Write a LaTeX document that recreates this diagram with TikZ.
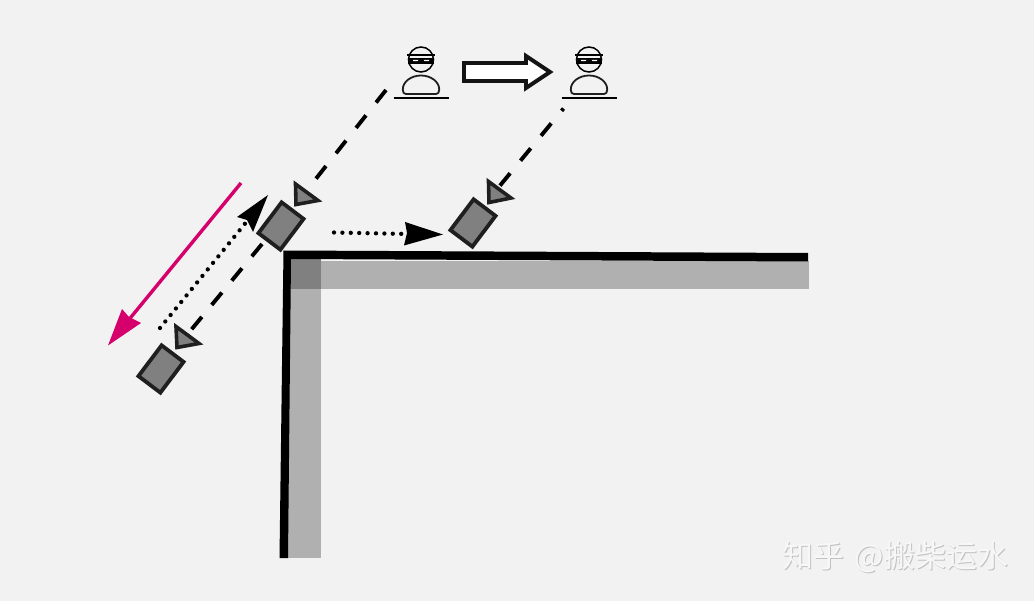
\documentclass[tikz,border=0pt]{standalone}
\usepackage{fontspec}
\newfontfamily\cjk{Noto Sans CJK SC}
\definecolor{bgc}{HTML}{F2F2F2}
\definecolor{pinkc}{HTML}{D6006C}
\tikzset{
  x=1pt,y=-1pt,
  car/.style={draw=black!88,line width=3.8pt,fill=black!50,minimum width=38.5pt,minimum height=27.5pt,inner sep=0pt,rotate=53},
  tipgray/.style={draw=black!88,line width=3.6pt,fill=black!50,line join=miter},
  dashline/.style={line width=3.9pt,dash pattern=on 16pt off 16.3pt,black},
  dotline/.style={line width=4.3pt,line cap=round,dash pattern=on 0pt off 8.4pt,black},
  thief/.pic={
    \draw[line width=1.5pt] (0,4.5) circle (12.5);
    \draw[line width=1.6pt] (-14,0) -- (14,0);
    \fill (-12.8,3.4) rectangle (12.8,9.2);
    \fill[white] (-8.5,4.8) -- (-2.5,4.8) -- (-3.5,6.2) -- (-7.5,6.2) -- cycle (2.5,4.8) -- (8.5,4.8) -- (7.5,6.2) -- (3.5,6.2) -- cycle;
    \draw[line width=1.8pt,black!88,fill=bgc] (-15,39) .. controls (-17,39) and (-18.2,37.5) .. (-18.2,35)
      .. controls (-18.7,27) and (-10,20.5) .. (0,20.5)
      .. controls (10,20.5) and (18.7,27) .. (18.2,35) .. controls (18.2,37.5) and (17,39) .. (15,39) -- cycle;
    \draw[line width=1.5pt] (-27.5,43) -- (27.5,43);
  }
}
\begin{document}
\begin{tikzpicture}
\path[fill=bgc] (0,0) rectangle (1034,601);
\useasboundingbox (0,0) rectangle (1034,601);
% wall
\fill[black!31] (288,261) rectangle (809,289);
\fill[black!31] (288,258) rectangle (321,558);
\fill[black!50] (288,258) rectangle (321,289);
\fill[black] (283.5,250.5) -- (808,253) -- (808,261.5) -- (291,259) -- (288,558) -- (279.5,558) -- cycle;
% nodes
\node[car] (carA) at (281,226) {};
\node[car] (carB) at (161,369) {};
\node[car] (carC) at (473,223) {};
\coordinate (apexA) at (296,204);
\coordinate (apexB) at (177,347);
\coordinate (apexC) at (498,188);
\pic at (421,55) {thief};
\pic at (589,55) {thief};
\coordinate (p1) at (386,90);
\coordinate (p2) at (563.5,108.5);
\coordinate (carAout) at (262,244);
\coordinate (dotB) at (160,328);
\coordinate (dotA) at (248,220);
\coordinate (dotS) at (334,232.5);
\coordinate (dotT) at (408,234);
\coordinate (pinkS) at (241,183);
\coordinate (pinkE) at (127,322);
% dashed connectors
\draw[dashline] (p1) -- (apexA);
\draw[dashline,dash pattern=on 16pt off 15.5pt] (carAout) -- (apexB);
\draw[tipgray] (295.5,184) -- (318,200.5) -- (296,204.5) -- cycle;
\draw[tipgray] (176,326.5) -- (199,343.5) -- (177,347.5) -- cycle;
\draw[tipgray] (488.5,181.5) -- (511,198) -- (489,202.5) -- cycle;
\draw[dashline,dash phase=13pt] (p2) -- (apexC);
% dotted arrows
\draw[dotline] (dotB) -- (dotA);
\fill (268,195) -- (237,217) -- (247,220) -- (253,232) -- cycle;
\draw[dotline] (dotS) -- (dotT);
\fill (443,234.5) -- (405,222) -- (407,233) -- (404,245.5) -- cycle;
% pink arrow
\draw[pinkc,line width=3.4pt] (pinkS) -- (pinkE);
\fill[pinkc] (108,345.5) -- (122,309) -- (129,317) -- (141,323) -- cycle;
% block arrow
\draw[line width=3.9pt,black!92,fill=white,line join=miter] (464,63) -- (526,63) -- (526,56) -- (550,72) -- (526,88) -- (526,81) -- (464,81) -- cycle;
% watermark
\node[anchor=west,inner sep=0pt,text=black!24,font=\cjk\fontsize{31}{31}\selectfont] (wmS) at (783.6,558.4) {知乎\hspace{10pt}@搬柴运水};
\node[anchor=west,inner sep=0pt,text=black!3,font=\cjk\fontsize{31}{31}\selectfont] (wm) at (782.5,557.3) {知乎\hspace{10pt}@搬柴运水};
\end{tikzpicture}
\end{document}
